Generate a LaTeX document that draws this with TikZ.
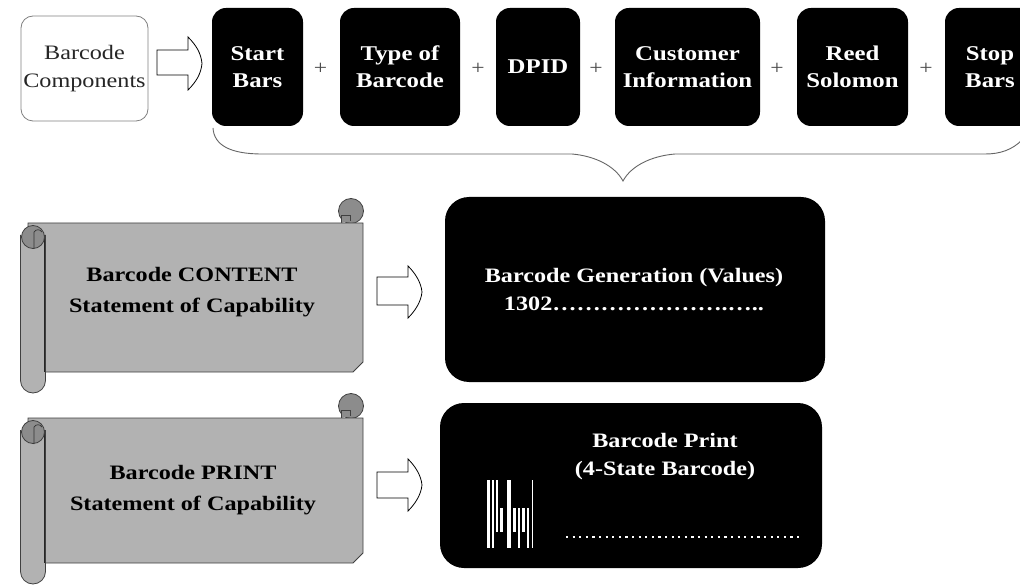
\documentclass[tikz,border=0pt]{standalone}
\usepackage{fontspec}
\setmainfont{Liberation Serif}[FakeStretch=1.18]
\begin{document}
\begin{tikzpicture}[x=1pt,y=-1pt,
  topbox/.style={rounded corners=14pt, fill=black, text=white, align=center,
    font=\fontsize{21}{27}\selectfont\bfseries, minimum height=118pt, inner sep=0pt},
  bigbox/.style={rounded corners=24pt, fill=black, inner sep=0pt},
  whitetext/.style={text=white, align=center, font=\fontsize{20.5}{28}\selectfont\bfseries, inner sep=0pt},
  scrolltext/.style={text=black, align=center, font=\fontsize{20.5}{31}\selectfont\bfseries, inner sep=0pt},
  plussign/.style={text=black!70, font=\fontsize{20}{20}\selectfont, inner sep=0pt},
  hollow/.style={draw=black, fill=white, line width=0.8pt, line join=miter},
  scrollbody/.style={draw=black!75, fill=black!30, line width=0.8pt},
  curl/.style={draw=black!75, fill=black!45, line width=0.8pt},
  bracestyle/.style={draw=black!60, line width=0.9pt},
  barw/.style={fill=white, draw=none}]
\useasboundingbox (0,0) rectangle (1020,585);
\clip (0,0) rectangle (1020,585);
\fill[white] (0,0) rectangle (1020,585);

% ---------- top row ----------
\node[draw=black!50, line width=0.8pt, rounded corners=12pt, fill=white,
  minimum width=127pt, minimum height=105pt, inner sep=0pt, align=center,
  font=\fontsize{20.5}{28}\selectfont, text=black!85] (comp) at (84.5,68.5) {Barcode\\Components};

\draw[hollow] (157,50) -- (188,50) -- (188,37) .. controls (196,45) and (201,53) .. (202,63.5)
  .. controls (201,74) and (196,82) .. (188,90) -- (188,75) -- (157,75) -- cycle;

\node[topbox, minimum width=91pt]  (start) at (257.5,67) {Start\\Bars};
\node[topbox, minimum width=120pt] (type)  at (400,67)   {Type of\\Barcode};
\node[topbox, minimum width=84pt]  (dpid)  at (538,67)   {DPID};
\node[topbox, minimum width=145pt] (cust)  at (687.5,67) {Customer\\Information};
\node[topbox, minimum width=111pt] (reed)  at (852.5,67) {Reed\\Solomon};
\node[topbox, minimum width=90pt]  (stop)  at (990,67)   {Stop\\Bars};

\node[plussign] (p1) at (320.5,69) {+};
\node[plussign] (p2) at (478,69) {+};
\node[plussign] (p3) at (596,69) {+};
\node[plussign] (p4) at (777,69) {+};
\node[plussign] (p5) at (926,69) {+};

% brace
\coordinate (bl) at (213,128);
\coordinate (btip) at (623,181);
\coordinate (br) at (1022,140);
\draw[bracestyle] (bl) .. controls (214,145) and (230,154) .. (262,154) -- (572,154)
  .. controls (595,156) and (615,166) .. (btip)
  .. controls (631,166) and (651,156) .. (675,154) -- (985,154)
  .. controls (1000,154) and (1012,150) .. (br);

% ---------- scrolls ----------
\newcommand{\drawmyscroll}[3]{% top, bottom, rollbottom
  \draw[curl] (351,#1-12) circle (12.5);
  \draw[curl, line width=0.7pt] (341,#1) -- (341,#1-8) -- (350,#1-8) -- (350,#1-2);
  \draw[scrollbody] (28,#1) -- (363,#1) -- (363,#2-10) -- (353,#2) -- (28,#2) -- cycle;
  \draw[scrollbody] (20.5,#1+12) -- (20.5,#3-12.5) arc[start angle=180, end angle=360, x radius=12.5, y radius=-12.5]
     -- (45.5,#1+12);
  \draw[black!85, line width=1.6pt] (44.5,#1+12) -- (44.5,#2);
  \draw[curl] (33,#1+14) circle (11.5);
  \draw[black!80, line width=0.7pt] (34,#1+26) -- (34,#1+9) .. controls (36,#1+6) and (40,#1+6) .. (42,#1+9);
}
\drawmyscroll{223}{372}{393}
\drawmyscroll{418}{563}{584}

\node[scrolltext] (content) at (192,292) {Barcode CONTENT\\Statement of Capability};
\node[scrolltext] (print)   at (193,490) {Barcode PRINT\\Statement of Capability};

% arrows to the right
\draw[hollow] (377,277) -- (408,277) -- (408,266) .. controls (415,273) and (421,282) .. (422,292)
  .. controls (421,302) and (415,311) .. (408,318) -- (408,305) -- (377,305) -- cycle;
\draw[hollow] (377,472) -- (408,472) -- (408,459) .. controls (415,466) and (421,475) .. (422,485)
  .. controls (421,495) and (415,504) .. (408,511) -- (408,498) -- (377,498) -- cycle;

% ---------- big black boxes ----------
\node[bigbox, minimum width=380pt, minimum height=185pt] (gen) at (635,289.5) {};
\node[whitetext] (gentext) at (634,290) {Barcode Generation (Values)\\1302………………….…..};

\node[bigbox, minimum width=382pt, minimum height=165pt] (prt) at (631,485.5) {};
\node[whitetext] (prttext) at (665,457) {Barcode Print\\(4-State Barcode)};

% barcode icon
\fill[barw] (487,480) rectangle (489.5,548);
\fill[barw] (491.5,480) rectangle (494,548);
\fill[barw] (495.5,480) rectangle (497.5,532);
\fill[barw] (499.5,508) rectangle (503,532);
\fill[barw] (506.5,480) rectangle (510.5,548);
\fill[barw] (513,508) rectangle (516,532);
\fill[barw] (517.5,508) rectangle (519.5,548);
\fill[barw] (522,508) rectangle (525,532);
\fill[barw] (527,508) rectangle (529,548);
\fill[barw] (531.5,480) rectangle (533,548);
\coordinate (dotA) at (566,537);
\coordinate (dotB) at (803,537);
\draw[white, line width=2.2pt, dash pattern=on 2.2pt off 4.4pt] (dotA) -- (dotB);
\end{tikzpicture}
\end{document}
